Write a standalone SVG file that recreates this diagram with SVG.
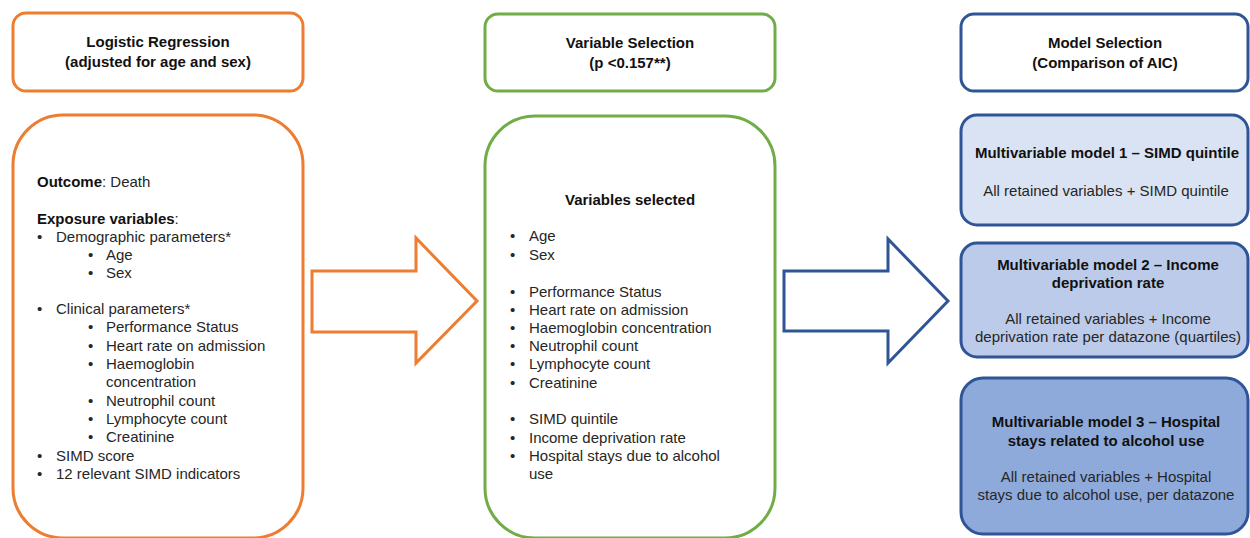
<svg xmlns="http://www.w3.org/2000/svg" width="1250" height="538" viewBox="0 0 1250 538">
<style>
.t{font-family:"Liberation Sans",Arial,sans-serif;font-size:15px;fill:#262626}
.b{font-weight:bold;fill:#111}
.c{text-anchor:middle}
.or{fill:#fff;stroke:#ed7d31;stroke-width:3}
.gr{fill:#fff;stroke:#70ad47;stroke-width:3}
.bl{fill:#fff;stroke:#2f5597;stroke-width:3}
</style>
<rect width="1250" height="538" fill="#fff"/>
<g id="hdr1">
<rect class="or" x="13" y="13" width="290" height="78" rx="13"/>
<text class="t b c" x="158" y="47">Logistic Regression</text>
<text class="t b c" x="158" y="67">(adjusted for age and sex)</text>
</g>
<g id="hdr2">
<rect class="gr" x="485" y="14" width="290" height="77" rx="13"/>
<text class="t b c" x="630" y="48">Variable Selection</text>
<text class="t b c" x="630" y="68">(p &lt;0.157**)</text>
</g>
<g id="hdr3">
<rect class="bl" x="961" y="14" width="287" height="77" rx="13"/>
<text class="t b c" x="1105" y="48">Model Selection</text>
<text class="t b c" x="1105" y="68">(Comparison of AIC)</text>
</g>
<g id="box1">
<rect class="or" x="13" y="115" width="290" height="423" rx="50"/>
<text class="t" x="37" y="187"><tspan font-weight="bold" fill="#111">Outcome</tspan>: Death</text>
<text class="t" x="37" y="224"><tspan font-weight="bold" fill="#111">Exposure variables</tspan>:</text>
<g class="t">
<text x="37" y="242">•</text><text x="56" y="242">Demographic parameters*</text>
<text x="88" y="260">•</text><text x="106" y="260">Age</text>
<text x="88" y="278">•</text><text x="106" y="278">Sex</text>
<text x="37" y="314">•</text><text x="56" y="314">Clinical parameters*</text>
<text x="88" y="332">•</text><text x="106" y="332">Performance Status</text>
<text x="88" y="351">•</text><text x="106" y="351">Heart rate on admission</text>
<text x="88" y="369">•</text><text x="106" y="369">Haemoglobin</text>
<text x="106" y="387">concentration</text>
<text x="88" y="406">•</text><text x="106" y="406">Neutrophil count</text>
<text x="88" y="424">•</text><text x="106" y="424">Lymphocyte count</text>
<text x="88" y="442">•</text><text x="106" y="442">Creatinine</text>
<text x="37" y="461">•</text><text x="56" y="461">SIMD score</text>
<text x="37" y="479">•</text><text x="56" y="479">12 relevant SIMD indicators</text>
</g>
</g>
<g id="box2">
<rect class="gr" x="485" y="116" width="290" height="422" rx="50"/>
<text class="t b c" x="630" y="205">Variables selected</text>
<g class="t">
<text x="510" y="241">•</text><text x="529" y="241">Age</text>
<text x="510" y="260">•</text><text x="529" y="260">Sex</text>
<text x="510" y="297">•</text><text x="529" y="297">Performance Status</text>
<text x="510" y="315">•</text><text x="529" y="315">Heart rate on admission</text>
<text x="510" y="333">•</text><text x="529" y="333">Haemoglobin concentration</text>
<text x="510" y="351">•</text><text x="529" y="351">Neutrophil count</text>
<text x="510" y="369">•</text><text x="529" y="369">Lymphocyte count</text>
<text x="510" y="388">•</text><text x="529" y="388">Creatinine</text>
<text x="510" y="424">•</text><text x="529" y="424">SIMD quintile</text>
<text x="510" y="443">•</text><text x="529" y="443">Income deprivation rate</text>
<text x="510" y="461">•</text><text x="529" y="461">Hospital stays due to alcohol</text>
<text x="529" y="479">use</text>
</g>
</g>
<g id="model1">
<rect x="961" y="115" width="287" height="110" rx="16" fill="#dae3f3" stroke="#2f5597" stroke-width="3"/>
<text class="t b c" x="1107" y="158">Multivariable model 1 – SIMD quintile</text>
<text class="t c" x="1106" y="196">All retained variables + SIMD quintile</text>
</g>
<g id="model2">
<rect x="961" y="243" width="287" height="114" rx="16" fill="#bccbe9" stroke="#2f5597" stroke-width="3"/>
<text class="t b c" x="1108" y="270">Multivariable model 2 – Income</text>
<text class="t b c" x="1108" y="288">deprivation rate</text>
<text class="t c" x="1108" y="324">All retained variables + Income</text>
<text class="t c" x="1108" y="342">deprivation rate per datazone (quartiles)</text>
</g>
<g id="model3">
<rect x="961" y="378" width="287" height="156" rx="22" fill="#8eaadb" stroke="#2f5597" stroke-width="3"/>
<text class="t b c" x="1106" y="427">Multivariable model 3 – Hospital</text>
<text class="t b c" x="1106" y="446">stays related to alcohol use</text>
<text class="t c" x="1106" y="482">All retained variables + Hospital</text>
<text class="t c" x="1106" y="500">stays due to alcohol use, per datazone</text>
</g>
<g id="connectors">
<polygon class="or" points="312,271 416,271 416,238 477,301 416,363 416,332 312,332"/>
<polygon class="bl" points="784,271 888,271 888,239 948,301 888,363 888,331 784,331"/>
</g>
</svg>
